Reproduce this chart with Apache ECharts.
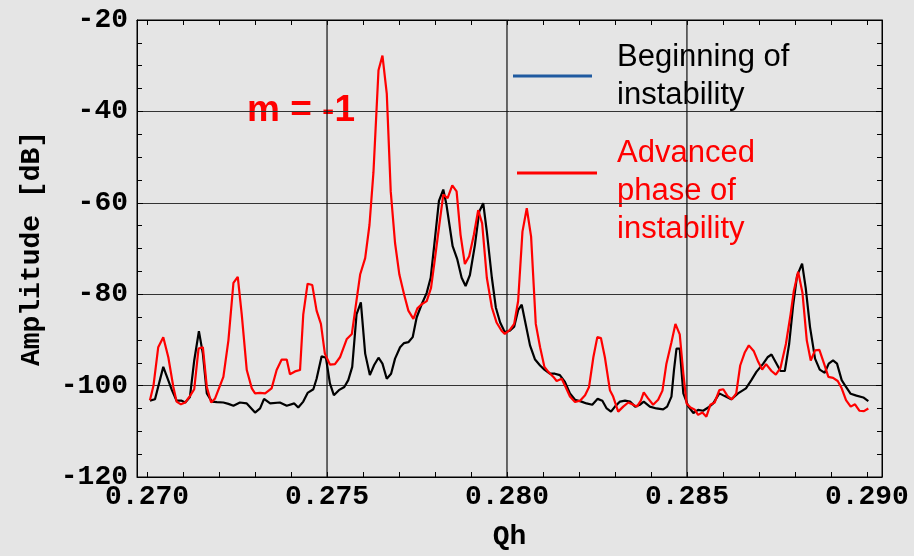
<!DOCTYPE html>
<html>
<head>
<meta charset="utf-8">
<script src="https://cdn.jsdelivr.net/npm/echarts@6/dist/echarts.min.js"></script>
<style>
  html, body { margin: 0; padding: 0; background: #e5e5e5; }
  #main { width: 914px; height: 556px; }
</style>
</head>
<body>
<div id="main"></div>
<script>
// beginning of instability (black curve)
var qhBegin = [0.27008,0.27022,0.27045,0.27069,0.27082,0.27096,0.27106,0.27119,0.27131,0.27144,0.27155,0.27166,0.27180,0.27194,0.27212,0.27226,0.27240,0.27258,0.27277,0.27300,0.27314,0.27325,0.27342,0.27369,0.27388,0.27409,0.27420,0.27434,0.27446,0.27462,0.27471,0.27485,0.27497,0.27508,0.27519,0.27533,0.27548,0.27559,0.27570,0.27582,0.27594,0.27606,0.27619,0.27631,0.27643,0.27654,0.27666,0.27678,0.27689,0.27703,0.27714,0.27726,0.27738,0.27749,0.27763,0.27777,0.27788,0.27798,0.27811,0.27823,0.27832,0.27849,0.27862,0.27874,0.27885,0.27897,0.27911,0.27923,0.27934,0.27944,0.27958,0.27969,0.27981,0.27994,0.28008,0.28020,0.28031,0.28041,0.28050,0.28064,0.28078,0.28092,0.28104,0.28119,0.28133,0.28147,0.28161,0.28175,0.28189,0.28207,0.28221,0.28237,0.28252,0.28265,0.28277,0.28289,0.28300,0.28314,0.28328,0.28342,0.28356,0.28369,0.28380,0.28397,0.28415,0.28434,0.28445,0.28457,0.28464,0.28471,0.28480,0.28490,0.28504,0.28518,0.28531,0.28545,0.28559,0.28573,0.28590,0.28605,0.28623,0.28642,0.28664,0.28679,0.28693,0.28712,0.28724,0.28735,0.28749,0.28760,0.28772,0.28784,0.28795,0.28806,0.28820,0.28830,0.28842,0.28856,0.28869,0.28883,0.28894,0.28906,0.28917,0.28930,0.28942,0.28955,0.28971,0.28990,0.29004];
var ampBegin = [-103.3,-103.0,-95.9,-101.0,-103.3,-103.3,-103.7,-102.5,-94.5,-88.1,-93.0,-101.7,-103.5,-103.6,-103.7,-104.0,-104.4,-103.7,-103.9,-105.9,-105.0,-102.9,-103.9,-103.7,-104.4,-103.9,-104.8,-103.5,-101.6,-100.8,-98.5,-93.6,-93.9,-99.5,-102.1,-101.0,-100.3,-98.8,-95.9,-84.4,-81.8,-93.0,-97.7,-95.5,-93.9,-95.2,-98.5,-97.4,-94.1,-91.6,-90.7,-90.5,-89.4,-85.1,-82.2,-79.7,-76.4,-69.2,-59.6,-57.1,-60.5,-69.5,-72.4,-76.4,-78.2,-75.8,-69.2,-61.9,-60.1,-66.3,-76.4,-82.9,-86.2,-88.3,-88.0,-87.1,-83.5,-82.3,-85.8,-91.2,-94.3,-95.6,-96.5,-97.4,-97.4,-97.7,-99.2,-101.7,-103.1,-103.5,-103.9,-104.2,-102.9,-103.3,-105.0,-105.7,-104.6,-103.5,-103.3,-103.5,-104.6,-104.2,-103.5,-104.6,-105.0,-105.2,-104.6,-102.4,-96.6,-91.9,-91.9,-101.7,-104.6,-106.0,-105.3,-105.5,-104.8,-103.9,-101.7,-102.3,-103.0,-101.7,-100.6,-98.8,-97.0,-95.2,-93.8,-93.2,-95.2,-96.8,-96.8,-90.9,-82.5,-76.0,-73.3,-78.6,-87.2,-94.1,-96.5,-97.2,-95.2,-94.5,-95.2,-98.8,-100.3,-101.8,-102.2,-102.6,-103.4];

// advanced phase of instability (red curve)
var qhAdvanced = [0.27008,0.27018,0.27031,0.27045,0.27059,0.27073,0.27082,0.27094,0.27106,0.27119,0.27131,0.27143,0.27155,0.27166,0.27178,0.27189,0.27212,0.27226,0.27240,0.27252,0.27263,0.27277,0.27291,0.27300,0.27314,0.27328,0.27346,0.27360,0.27374,0.27388,0.27397,0.27411,0.27425,0.27434,0.27446,0.27459,0.27471,0.27483,0.27494,0.27508,0.27522,0.27536,0.27555,0.27569,0.27578,0.27592,0.27606,0.27618,0.27629,0.27643,0.27654,0.27666,0.27677,0.27689,0.27701,0.27714,0.27726,0.27740,0.27751,0.27763,0.27777,0.27789,0.27800,0.27812,0.27823,0.27835,0.27848,0.27860,0.27871,0.27883,0.27895,0.27908,0.27920,0.27931,0.27944,0.27958,0.27971,0.27985,0.27994,0.28008,0.28020,0.28031,0.28043,0.28055,0.28067,0.28080,0.28092,0.28104,0.28115,0.28129,0.28138,0.28152,0.28163,0.28175,0.28189,0.28203,0.28217,0.28228,0.28240,0.28251,0.28261,0.28272,0.28286,0.28295,0.28309,0.28323,0.28337,0.28348,0.28361,0.28372,0.28380,0.28392,0.28406,0.28420,0.28432,0.28443,0.28457,0.28468,0.28480,0.28490,0.28499,0.28510,0.28522,0.28531,0.28543,0.28554,0.28565,0.28577,0.28590,0.28601,0.28613,0.28625,0.28637,0.28648,0.28661,0.28672,0.28686,0.28698,0.28709,0.28720,0.28735,0.28747,0.28760,0.28775,0.28788,0.28797,0.28809,0.28821,0.28833,0.28844,0.28856,0.28868,0.28881,0.28893,0.28906,0.28919,0.28930,0.28942,0.28955,0.28967,0.28979,0.28992,0.29004];
var ampAdvanced = [-103.2,-99.9,-91.6,-89.4,-93.8,-100.3,-103.5,-104.1,-103.7,-102.3,-100.8,-91.9,-91.6,-100.3,-103.7,-102.8,-98.1,-90.1,-77.5,-76.2,-84.4,-96.6,-100.6,-101.7,-101.6,-101.7,-100.6,-96.6,-94.3,-94.3,-97.5,-96.9,-96.6,-84.4,-77.7,-78.0,-83.6,-86.5,-93.0,-95.4,-95.3,-93.8,-89.8,-88.7,-83.6,-75.7,-72.1,-64.8,-53.3,-31.0,-27.8,-36.1,-57.5,-68.8,-75.7,-80.0,-83.6,-85.4,-83.1,-82.2,-81.5,-78.6,-72.1,-64.8,-58.2,-59.0,-56.2,-57.5,-67.0,-73.4,-71.7,-67.0,-61.6,-64.5,-76.4,-82.9,-86.2,-88.0,-88.7,-87.8,-86.5,-81.5,-66.3,-61.2,-67.4,-86.5,-91.6,-95.9,-97.0,-98.1,-99.0,-98.5,-100.3,-102.4,-103.6,-103.3,-102.1,-100.3,-93.8,-89.4,-89.6,-93.8,-101.0,-102.4,-105.7,-104.6,-103.7,-104.1,-104.6,-103.3,-101.5,-102.8,-104.2,-103.1,-101.1,-95.2,-90.5,-86.5,-88.8,-97.4,-103.9,-104.8,-105.3,-106.4,-105.9,-106.8,-104.2,-103.7,-101.0,-100.8,-102.3,-103.0,-101.7,-95.6,-92.7,-91.2,-92.5,-94.8,-96.5,-95.3,-96.8,-97.6,-96.1,-90.9,-84.4,-79.3,-75.1,-79.7,-90.1,-94.5,-92.3,-92.2,-95.2,-98.1,-98.3,-99.0,-100.6,-103.2,-104.6,-104.1,-105.5,-105.6,-105.0];

var xLabelValues = [0.270, 0.275, 0.280, 0.285, 0.290];
var xTickValues = [0.270,0.271,0.272,0.273,0.274,0.275,0.276,0.277,0.278,0.279,0.280,0.281,0.282,0.283,0.284,0.285,0.286,0.287,0.288,0.289,0.290];
var xGridValues = [0.275, 0.280, 0.285];
var yMin = -120, yMax = -20;

function pairs(xs, ys) {
    return xs.map(function (x, i) { return [x, ys[i]]; });
}

var monoFont = '"Liberation Mono", "DejaVu Sans Mono", monospace';
var sansFont = '"Liberation Sans", Arial, sans-serif';

var myChart = echarts.init(document.getElementById('main'), null, {renderer: 'canvas'});

function xAxisBase(pos) {
    return {
        type: 'value',
        position: pos,
        min: 0.26972,
        max: 0.29042,
        axisLine: { show: true, onZero: false, lineStyle: { color: '#000', width: 1 } },
        axisTick: { show: true, inside: true, length: 5, customValues: xTickValues, lineStyle: { color: '#000' } },
        splitLine: { show: false },
        axisLabel: { show: false }
    };
}
function yAxisBase(pos) {
    return {
        type: 'value',
        position: pos,
        min: yMin,
        max: yMax,
        interval: 20,
        axisLine: { show: true, onZero: false, lineStyle: { color: '#000', width: 1 } },
        axisTick: { show: true, inside: true, length: 6, lineStyle: { color: '#000' } },
        minorTick: { show: true, splitNumber: 4, length: 5, lineStyle: { color: '#000' } },
        splitLine: { show: false },
        axisLabel: { show: false }
    };
}

var xBottom = xAxisBase('bottom');
xBottom.axisLabel = {
    show: true,
    customValues: xLabelValues,
    formatter: function (v) { return v.toFixed(3); },
    fontFamily: monoFont,
    fontWeight: 'bold',
    fontSize: 28,
    color: '#000',
    margin: 6
};
xBottom.name = 'Qh';
xBottom.nameLocation = 'middle';
xBottom.nameGap = 46;
xBottom.nameTextStyle = { fontFamily: monoFont, fontWeight: 'bold', fontSize: 28, color: '#000' };

var yLeft = yAxisBase('left');
yLeft.axisLabel = {
    show: true,
    fontFamily: monoFont,
    fontWeight: 'bold',
    fontSize: 28,
    color: '#000',
    margin: 9
};
yLeft.splitLine = { show: true, lineStyle: { color: '#333', width: 1 } };
yLeft.name = 'Amplitude [dB]';
yLeft.nameLocation = 'middle';
yLeft.nameGap = 91;
yLeft.nameTextStyle = { fontFamily: monoFont, fontWeight: 'bold', fontSize: 28, color: '#000' };

// vertical grid lines as thin line series
var gridSeries = xGridValues.map(function (v) {
    return {
        type: 'line',
        silent: true,
        z: 1,
        showSymbol: false,
        data: [[v, yMin], [v, yMax]],
        lineStyle: { color: '#111', width: 1.2 },
        itemStyle: { color: '#111' }
    };
});

var option = {
    animation: false,
    backgroundColor: '#e5e5e5',
    grid: {
        left: 137,
        right: 32,
        top: 20,
        bottom: 75,
        show: true,
        backgroundColor: '#e5e5e5',
        borderColor: '#000',
        borderWidth: 1
    },
    xAxis: [xBottom, xAxisBase('top')],
    yAxis: [yLeft, yAxisBase('right')],
    series: gridSeries.concat([
        {
            name: 'Beginning of instability',
            type: 'line',
            z: 3,
            data: pairs(qhBegin, ampBegin),
            showSymbol: false,
            lineStyle: { color: '#000', width: 2.2 },
            itemStyle: { color: '#000' }
        },
        {
            name: 'Advanced phase of instability',
            type: 'line',
            z: 4,
            data: pairs(qhAdvanced, ampAdvanced),
            showSymbol: false,
            lineStyle: { color: '#ff0000', width: 2.2 },
            itemStyle: { color: '#ff0000' }
        }
    ]),
    graphic: [
        {
            type: 'line',
            shape: { x1: 513, y1: 76, x2: 592, y2: 76 },
            style: { stroke: '#1f5aa0', lineWidth: 3 }
        },
        {
            type: 'text',
            x: 617, y: 38,
            style: {
                text: 'Beginning of\ninstability',
                fontFamily: sansFont, fontSize: 31, lineHeight: 38,
                fill: '#000', verticalAlign: 'top', align: 'left'
            }
        },
        {
            type: 'line',
            shape: { x1: 517, y1: 173, x2: 597, y2: 173 },
            style: { stroke: '#ff0000', lineWidth: 3 }
        },
        {
            type: 'text',
            x: 617, y: 134,
            style: {
                text: 'Advanced\nphase of\ninstability',
                fontFamily: sansFont, fontSize: 31, lineHeight: 38,
                fill: '#ff0000', verticalAlign: 'top', align: 'left'
            }
        },
        {
            type: 'text',
            x: 247, y: 111,
            style: {
                text: 'm = -1',
                fontFamily: sansFont, fontSize: 37, fontWeight: 'bold',
                fill: '#ff0000', verticalAlign: 'middle', align: 'left'
            }
        }
    ]
};
myChart.setOption(option);
</script>
</body>
</html>
